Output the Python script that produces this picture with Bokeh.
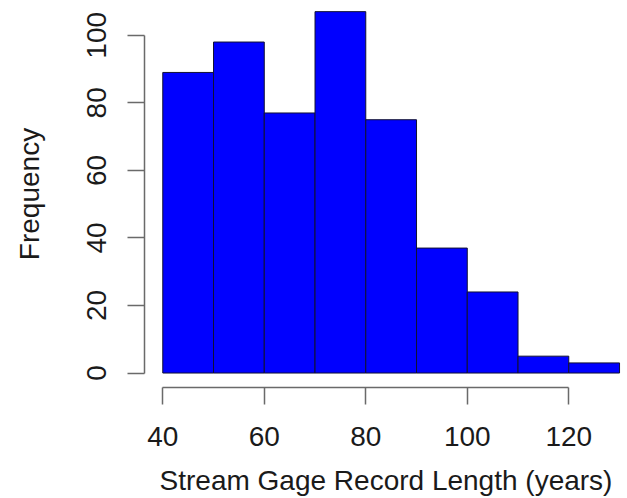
from bokeh.plotting import figure
from bokeh.models import Range1d, FixedTicker
from bokeh.embed import file_html
from bokeh.resources import INLINE

# Data
bin_edges = [40, 50, 60, 70, 80, 90, 100, 110, 120, 130]
counts = [89, 98, 77, 107, 75, 37, 24, 5, 3]
x_ticks = [40, 60, 80, 100, 120]
y_ticks = [0, 20, 40, 60, 80, 100]
x_title = "Stream Gage Record Length (years)"
y_title = "Frequency"

FONT = "Liberation Sans"
FS = "28px"

p = figure(width=627, height=498, output_backend="svg", toolbar_location=None,
           x_range=Range1d(36.4, 131.57), y_range=Range1d(-4.28, 110.3),
           min_border_left=144, min_border_right=0, min_border_top=0,
           min_border_bottom=110)
p.outline_line_color = None
p.xgrid.visible = False
p.ygrid.visible = False
p.background_fill_color = "white"
p.border_fill_color = "white"

p.quad(left=bin_edges[:-1], right=bin_edges[1:], bottom=0, top=counts,
       fill_color="#0000FF", line_color="#111133", line_width=1)

for ax, ticks, bounds, title in ((p.xaxis[0], x_ticks, (x_ticks[0], x_ticks[-1]), x_title),
                                  (p.yaxis[0], y_ticks, (y_ticks[0], y_ticks[-1]), y_title)):
    ax.ticker = FixedTicker(ticks=ticks)
    ax.bounds = bounds
    ax.axis_label = title
    ax.axis_line_color = "#6a6a6a"
    ax.axis_line_width = 1.5
    ax.major_tick_line_color = "#6a6a6a"
    ax.major_tick_line_width = 1.5
    ax.major_tick_out = 17
    ax.major_tick_in = 0
    ax.minor_tick_line_color = None
    ax.major_label_text_font = FONT
    ax.major_label_text_font_size = FS
    ax.major_label_text_color = "#1a1a1a"
    ax.axis_label_text_font = FONT
    ax.axis_label_text_font_size = FS
    ax.axis_label_text_font_style = "normal"
    ax.axis_label_text_color = "#1a1a1a"

p.xaxis.major_label_standoff = 22
p.xaxis.axis_label_standoff = 16
p.yaxis.major_label_orientation = "vertical"
p.yaxis.major_label_standoff = 21
p.yaxis.axis_label_standoff = 40

open("out.html", "w").write(file_html(p, INLINE))
